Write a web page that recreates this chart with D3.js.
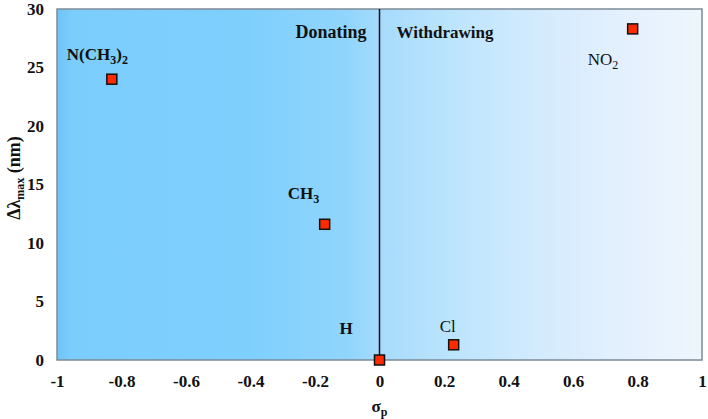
<!DOCTYPE html>
<html><head><meta charset="utf-8">
<script src="https://cdn.jsdelivr.net/npm/d3@7"></script>
<style>body{margin:0;background:#fff}svg{display:block}svg text{font-family:"Liberation Serif","DejaVu Serif","Times New Roman",serif}</style>
</head><body>
<svg id="c" width="708" height="419"></svg>
<script>
const substituents = ["N(CH3)2", "CH3", "H", "Cl", "NO2"];
const sigmaP = [-0.83, -0.17, 0, 0.23, 0.785];
const dLambda = [24.0, 11.6, 0, 1.3, 28.3];
const xTicks = [-1, -0.8, -0.6, -0.4, -0.2, 0, 0.2, 0.4, 0.6, 0.8, 1];
const yTicks = [0, 5, 10, 15, 20, 25, 30];

const W = 708, H = 419;
const m = {l: 57, r: 6, t: 9, b: 59};
const svg = d3.select("#c");
const x = d3.scaleLinear().domain([-1, 1]).range([m.l, W - m.r]);
const y = d3.scaleLinear().domain([0, 30]).range([H - m.b, m.t]);
const FF = '"Liberation Serif","DejaVu Serif","Times New Roman",serif';
const FS = 17;

const defs = svg.append("defs");
const g = defs.append("linearGradient").attr("id", "bg").attr("x1", 0).attr("x2", 1).attr("y1", 0).attr("y2", 0);
[[0, "#70c4f6"], [0.025, "#7bcdfc"], [0.3, "#7fcffd"], [0.45, "#90d5fc"], [0.5, "#a6dbfc"], [0.62, "#bde5fd"], [0.75, "#d4ebfd"], [0.88, "#e4f0fe"], [1, "#eef6fd"]]
  .forEach(([o, c]) => g.append("stop").attr("offset", o).attr("stop-color", c));

svg.append("rect").attr("x", x(-1)).attr("y", y(30)).attr("width", x(1) - x(-1)).attr("height", y(0) - y(30))
  .attr("fill", "url(#bg)").attr("stroke", "#7d8a96").attr("stroke-width", 1.5);

svg.append("line").attr("x1", x(0)).attr("x2", x(0)).attr("y1", y(30)).attr("y2", y(0))
  .attr("stroke", "#111").attr("stroke-width", 1.5);

const xa = svg.append("g").attr("transform", `translate(0,${y(0)})`)
  .call(d3.axisBottom(x).tickValues(xTicks).tickSize(0).tickPadding(15).tickFormat(d => String(+d.toFixed(1))));
const ya = svg.append("g").attr("transform", `translate(${x(-1)},0)`)
  .call(d3.axisLeft(y).tickValues(yTicks).tickSize(0).tickPadding(13));
[xa, ya].forEach(a => {
  a.attr("font-family", FF);
  a.select(".domain").remove();
  a.selectAll("text").style("font-family", FF).attr("font-weight", "bold").attr("font-size", FS).attr("fill", "#111");
});

function txt(xp, yp, anchor, weight) {
  return svg.append("text").attr("x", xp).attr("y", yp).attr("text-anchor", anchor)
    .style("font-family", FF).attr("font-weight", weight).attr("font-size", FS).attr("fill", "#111");
}

txt(x(0), 412, "middle", "bold").html('σ<tspan dy="4" font-size="12">p</tspan>');
svg.append("text").attr("transform", `translate(20,178) rotate(-90)`).attr("text-anchor", "middle")
  .style("font-family", FF).attr("font-weight", "bold").attr("font-size", 18).attr("fill", "#111")
  .html('Δλ<tspan dy="4" font-size="12">max</tspan><tspan dy="-4"> (nm)</tspan>');

txt(x(0) - 13, 38, "end", "bold").attr("font-size", 18).text("Donating");
txt(x(0) + 17, 38, "start", "bold").text("Withdrawing");

svg.selectAll("rect.pt").data(sigmaP).join("rect").attr("class", "pt")
  .attr("x", d => x(d) - 5).attr("y", (d, i) => y(dLambda[i]) - 5).attr("width", 10).attr("height", 10)
  .attr("fill", "#ff2a00").attr("stroke", "#111").attr("stroke-width", 1.5);

const labelHtml = {
  "N(CH3)2": 'N(CH<tspan dy="4" font-size="12">3</tspan><tspan dy="-4">)</tspan><tspan dy="4" font-size="12">2</tspan>',
  "CH3": 'CH<tspan dy="4" font-size="12">3</tspan>',
  "H": 'H',
  "Cl": 'Cl',
  "NO2": 'NO<tspan dy="4" font-size="12">2</tspan>'
};
const labelOff = {"N(CH3)2": [-45, -19, "bold"], "CH3": [-37, -25, "bold"], "H": [-40, -26, "bold"], "Cl": [-14, -13, "normal"], "NO2": [-45, 36, "normal"]};
substituents.forEach((s, i) => {
  const [dx, dy, fw] = labelOff[s];
  txt(x(sigmaP[i]) + dx, y(dLambda[i]) + dy, "start", fw).html(labelHtml[s]);
});
</script>
</body></html>
